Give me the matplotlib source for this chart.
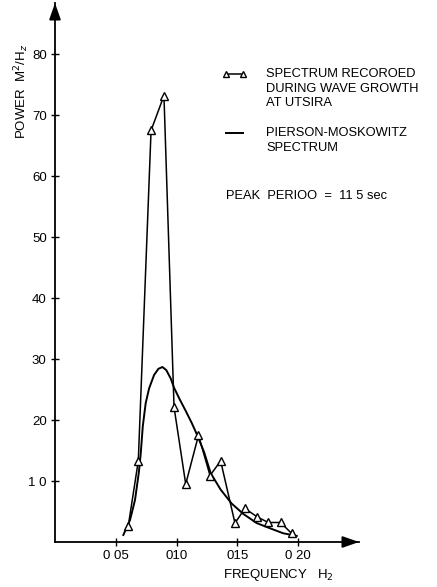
import matplotlib
matplotlib.use("Agg")
import matplotlib.pyplot as plt

plt.rcParams['font.family'] = ['Liberation Sans', 'DejaVu Sans']

# Measured spectrum (triangles)
meas_freq = [0.0603, 0.0685, 0.0790, 0.0896, 0.0979, 0.1075, 0.1180, 0.1275,
             0.1362, 0.1480, 0.1562, 0.1664, 0.1754, 0.1855, 0.1946]
meas_power = [2.7, 13.3, 67.5, 73.2, 22.1, 9.5, 17.5, 10.9,
              13.3, 3.1, 5.5, 4.1, 3.2, 3.2, 1.4]

# Pierson-Moskowitz spectrum
pm_freq = [0.0562, 0.0617, 0.0658, 0.0690, 0.0705, 0.0722, 0.0746, 0.0774,
           0.0815, 0.0850, 0.0883, 0.0915, 0.0952, 0.0979, 0.1028, 0.1075,
           0.1125, 0.1170, 0.1225, 0.1280, 0.1362, 0.1453, 0.1549, 0.1659,
           0.1768, 0.1877, 0.1988]
pm_power = [1.15, 3.6, 6.9, 11.5, 14.5, 19.0, 22.8, 25.2,
            27.4, 28.4, 28.7, 28.2, 26.8, 25.3, 23.3, 21.5,
            19.5, 17.5, 14.8, 11.3, 8.6, 6.3, 4.6, 3.1,
            2.25, 1.43, 1.0]

xticks = [0.05, 0.10, 0.15, 0.20]
xtick_labels = ["0 05", "010", "015", "0 20"]
yticks = [10, 20, 30, 40, 50, 60, 70, 80]
ytick_labels = ["1 0", "20", "30", "40", "50", "60", "70", "80"]

fig = plt.figure(figsize=(4.37, 5.87), dpi=100)
ax = fig.add_axes([55/437, 45/587, 304/437, 539/587])
ax.set_xlim(0, 0.25)
ax.set_ylim(0, 88.4)
for s in ['top', 'right']:
    ax.spines[s].set_visible(False)
ax.spines['left'].set_linewidth(1.3)
ax.spines['bottom'].set_linewidth(1.3)

ax.plot(pm_freq, pm_power, color='black', lw=1.4)
ax.plot(meas_freq, meas_power, color='black', lw=1.1, marker='^', ms=6,
        mfc='white', mec='black', mew=1.0)

ax.set_xticks(xticks)
ax.set_xticklabels(xtick_labels)
ax.set_yticks(yticks)
ax.set_yticklabels(ytick_labels)
ax.tick_params(direction='inout', length=6, width=1.0, labelsize=9.5, pad=3)

# arrowheads
ax.annotate('', xy=(1.0, 0), xycoords='axes fraction', xytext=(0.955, 0),
            arrowprops=dict(arrowstyle='-|>,head_length=1.0,head_width=0.35',
                            color='black', lw=1.3, shrinkA=0, shrinkB=0))
ax.annotate('', xy=(0, 1.0), xycoords='axes fraction', xytext=(0, 0.975),
            arrowprops=dict(arrowstyle='-|>,head_length=1.0,head_width=0.35',
                            color='black', lw=1.3, shrinkA=0, shrinkB=0))

fig.text(22/437, 1 - 91/587, r'POWER  M$^2$/H$_z$', rotation=90,
         ha='center', va='center', fontsize=9.5)
fig.text(278/437, 1 - 575/587, r'FREQUENCY   H$_2$', ha='center', va='center',
         fontsize=9.5)

def px(x, y):
    return x/437, 1 - y/587

lx0, lx1 = 226, 243
fig.add_artist(plt.Line2D([lx0/437, lx1/437], [1-74/587, 1-74/587], color='black',
                          lw=1.1, marker='^', ms=5, mfc='white', mec='black'))
fig.add_artist(plt.Line2D([lx0/437, lx1/437], [1-133/587, 1-133/587], color='black',
                          lw=1.4))
fs = 9.3
fig.text(*px(266, 74), 'SPECTRUM RECOROED', va='center', ha='left', fontsize=fs)
fig.text(*px(266, 89), 'DURING WAVE GROWTH', va='center', ha='left', fontsize=fs)
fig.text(*px(266, 103), 'AT UTSIRA', va='center', ha='left', fontsize=fs)
fig.text(*px(266, 133), 'PIERSON-MOSKOWITZ', va='center', ha='left', fontsize=fs)
fig.text(*px(266, 148), 'SPECTRUM', va='center', ha='left', fontsize=fs)
fig.text(*px(226, 196), 'PEAK  PERIOO  =  11 5 sec', va='center', ha='left', fontsize=fs)

fig.savefig('out.png', dpi=100)
